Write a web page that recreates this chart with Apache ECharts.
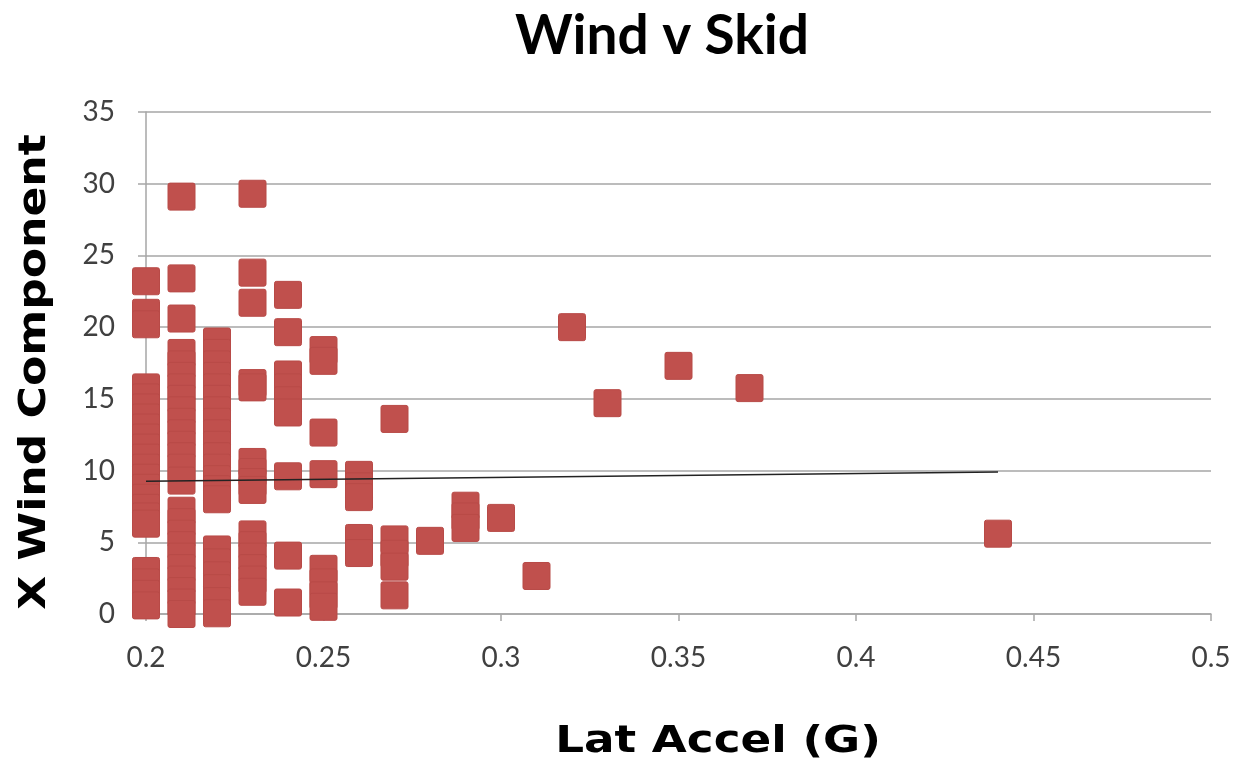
<!DOCTYPE html>
<html>
<head>
<meta charset="utf-8">
<script src="https://cdn.jsdelivr.net/npm/echarts@6/dist/echarts.min.js"></script>
<style>
html,body{margin:0;padding:0;background:#fff;}
#chart{width:1243px;height:763px;}
</style>
</head>
<body>
<div id="chart"></div>
<script>
// Data
const latAccel = [
  0.2,0.2,0.2,0.2,0.2,0.2,0.2,0.2,0.2,0.2,0.2,0.2,0.2,0.2,0.2,0.2,0.2,0.2,0.2,0.2,0.2,0.2,
  0.21,0.21,0.21,0.21,0.21,0.21,0.21,0.21,0.21,0.21,0.21,0.21,0.21,0.21,0.21,0.21,0.21,0.21,0.21,0.21,0.21,0.21,0.21,0.21,0.21,
  0.22,0.22,0.22,0.22,0.22,0.22,0.22,0.22,0.22,0.22,0.22,0.22,0.22,0.22,0.22,0.22,0.22,0.22,0.22,0.22,0.22,
  0.23,0.23,0.23,0.23,0.23,0.23,0.23,0.23,0.23,0.23,0.23,0.23,0.23,0.23,0.23,
  0.24,0.24,0.24,0.24,0.24,0.24,0.24,0.24,0.24,
  0.25,0.25,0.25,0.25,0.25,0.25,0.25,0.25,
  0.26,0.26,0.26,0.26,0.26,
  0.27,0.27,0.27,0.27,0.27,
  0.28,0.29,0.29,0.29,0.3,0.31,0.32,0.33,0.35,0.37,0.44
];
const xWind = [
  23.2,21.0,20.2,15.8,15.1,14.4,13.7,13.0,12.3,11.6,10.9,10.2,9.5,8.8,8.1,7.4,6.8,6.3,3.0,2.2,1.4,0.6,
  29.1,23.4,20.6,18.2,17.4,16.6,15.8,15.0,14.2,13.4,12.6,11.8,11.0,10.2,9.3,7.2,6.4,5.6,4.8,4.0,3.2,2.4,1.6,0.8,0.0,
  19.0,18.2,17.4,16.6,15.8,15.0,14.2,13.4,12.6,11.8,11.0,10.2,9.4,8.7,8.0,4.5,3.6,2.7,1.8,0.9,0.05,
  29.3,23.8,21.7,16.1,15.8,10.6,9.9,9.2,8.65,5.55,4.8,4.0,3.2,2.4,1.55,
  22.25,19.65,16.7,15.8,14.9,14.05,9.6,4.07,0.8,
  18.4,17.65,12.65,9.75,3.15,2.2,1.3,0.5,
  9.7,8.9,8.15,5.3,4.25,
  13.6,5.2,4.2,3.3,1.3,
  5.1,7.55,6.8,6.0,6.7,2.65,20.0,14.7,17.3,15.75,5.6
];
const trendX = [0.2, 0.44];
const trendY = [9.25, 9.9];
const xTicks = [0.2, 0.25, 0.3, 0.35, 0.4, 0.45, 0.5];
const yTicks = [0, 5, 10, 15, 20, 25, 30, 35];

const points = latAccel.map((x, i) => [x, xWind[i]]);
const trend = trendX.map((x, i) => [x, trendY[i]]);

const chart = echarts.init(document.getElementById('chart'));
const labelFont = {fontFamily: 'Lato', fontSize: 28, color: '#404040'};
const axisTitleFont = {fontFamily: '"DejaVu Sans"', fontWeight: 'bold', fontSize: 38, fill: '#000'};
chart.setOption({
  animation: false,
  backgroundColor: '#fff',
  grid: {left: 146, right: 32, top: 112, bottom: 149, containLabel: false},
  xAxis: {
    type: 'value',
    min: xTicks[0], max: xTicks[xTicks.length - 1], interval: 0.05,
    axisLine: {show: true, onZero: false, lineStyle: {color: '#A6A6A6', width: 1.5}},
    axisTick: {show: true, inside: false, length: 7, lineStyle: {color: '#A6A6A6', width: 1.5}},
    axisLabel: Object.assign({margin: 30, formatter: v => String(+v.toFixed(2))}, labelFont),
    splitLine: {show: false}
  },
  yAxis: {
    type: 'value',
    min: yTicks[0], max: yTicks[yTicks.length - 1], interval: 5,
    axisLine: {show: true, lineStyle: {color: '#A6A6A6', width: 1.5}},
    axisTick: {show: true, inside: false, length: 8, lineStyle: {color: '#A6A6A6', width: 1.5}},
    axisLabel: Object.assign({margin: 31}, labelFont),
    splitLine: {show: true, lineStyle: {color: '#A6A6A6', width: 1.5}}
  },
  graphic: [
    {
      type: 'text', x: 662, y: 36,
      style: {text: 'Wind v Skid', align: 'center', verticalAlign: 'middle', fontFamily: 'Lato', fontWeight: 'bold', fontSize: 55, fill: '#000'}
    },
    {
      type: 'text', x: 718, y: 742, scaleX: 1.19,
      style: Object.assign({text: 'Lat Accel (G)', align: 'center', verticalAlign: 'middle'}, axisTitleFont)
    },
    {
      type: 'text', x: 35, y: 372, rotation: Math.PI / 2, scaleX: 1.16,
      style: Object.assign({text: 'X Wind Component', align: 'center', verticalAlign: 'middle'}, axisTitleFont)
    }
  ],
  series: [
    {
      type: 'scatter',
      data: points,
      symbol: 'path://M2,0 H25 Q27,0 27,2 V25 Q27,27 25,27 H2 Q0,27 0,25 V2 Q0,0 2,0 Z',
      symbolSize: 27,
      itemStyle: {color: '#C0504D', borderColor: '#B84A47', borderWidth: 1, opacity: 1},
      z: 2
    },
    {
      type: 'line',
      data: trend,
      symbol: 'none',
      lineStyle: {color: '#222', width: 1.5},
      z: 3
    }
  ]
});
</script>
</body>
</html>
